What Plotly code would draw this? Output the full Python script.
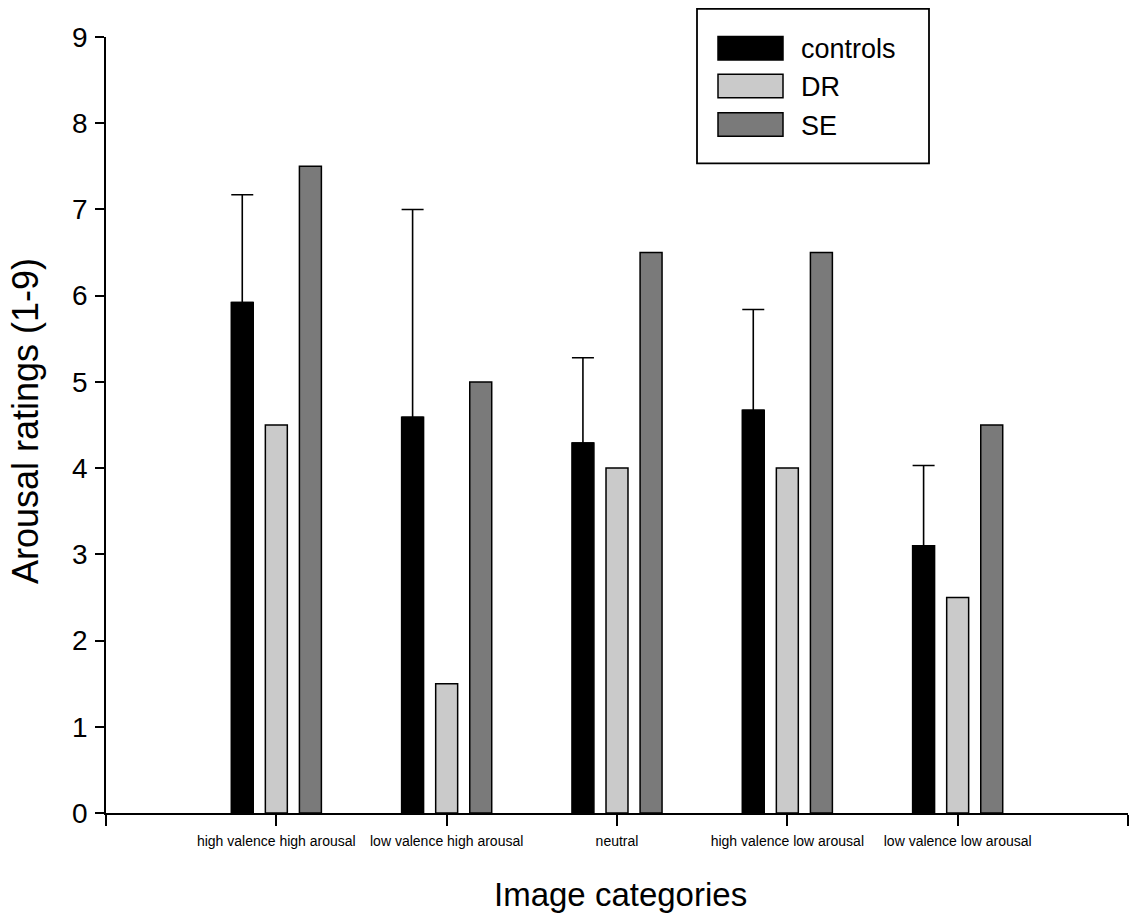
import plotly.graph_objects as go

# Mean arousal ratings per image category and group
categories = [
    "high valence high arousal",
    "low valence high arousal",
    "neutral",
    "high valence low arousal",
    "low valence low arousal",
]
controls = [5.92, 4.59, 4.29, 4.67, 3.10]
controls_err = [1.25, 2.41, 0.99, 1.17, 0.93]   # upper error (SD)
dr = [4.5, 1.5, 4.0, 4.0, 2.5]
se = [7.5, 5.0, 6.5, 6.5, 4.5]
y_ticks = [0, 1, 2, 3, 4, 5, 6, 7, 8, 9]

W, H = 1130, 921
ML, MR, MT, MB = 106, 2, 36.6, 107.7
FONT = "Arial, Liberation Sans, Helvetica, sans-serif"

positions = list(range(1, len(categories) + 1))

fig = go.Figure()
fig.add_trace(go.Bar(
    x=positions, y=controls, name="controls",
    marker=dict(color="#000000", line=dict(color="#000000", width=1.5)),
    error_y=dict(type="data", symmetric=False, array=controls_err,
                 arrayminus=[0] * len(controls), color="#000000",
                 thickness=1.6, width=11),
))
fig.add_trace(go.Bar(
    x=positions, y=dr, name="DR",
    marker=dict(color="#cacaca", line=dict(color="#000000", width=1.5)),
))
fig.add_trace(go.Bar(
    x=positions, y=se, name="SE",
    marker=dict(color="#7a7a7a", line=dict(color="#000000", width=1.5)),
))

fig.update_layout(
    width=W, height=H,
    margin=dict(l=ML, r=MR, t=MT, b=MB, pad=0),
    paper_bgcolor="white", plot_bgcolor="white",
    barmode="group", bargap=0.4, bargroupgap=0.355,
    showlegend=False,
    font=dict(family=FONT, color="#000000"),
)

fig.update_xaxes(
    range=[0, 6],
    tickmode="array",
    tickvals=[0] + positions + [6],
    ticktext=[""] + categories + [""],
    tickfont=dict(size=14, family=FONT),
    ticks="outside", ticklen=11, tickwidth=1.5, tickcolor="#000000",
    showline=True, linecolor="#000000", linewidth=1.8,
    showgrid=False, zeroline=False,
    ticklabelstandoff=3,
)
fig.update_yaxes(
    range=[0, 9],
    tickmode="array", tickvals=y_ticks,
    tickfont=dict(size=28, family=FONT),
    ticks="outside", ticklen=9, tickwidth=1.5, tickcolor="#000000",
    showline=True, linecolor="#000000", linewidth=1.8,
    showgrid=False, zeroline=False,
    ticklabelstandoff=2,
)

# Axis titles
fig.add_annotation(
    text="Image categories", xref="paper", yref="paper",
    x=(620 - ML) / (W - ML - MR), y=-(895 - (H - MB)) / (H - MT - MB),
    showarrow=False, xanchor="center", yanchor="middle",
    font=dict(size=33, family=FONT),
)
fig.add_annotation(
    text="Arousal ratings (1-9)", xref="paper", yref="paper",
    x=-(ML - 25) / (W - ML - MR), y=((H - MB) - 421) / (H - MT - MB),
    textangle=-90, showarrow=False, xanchor="center", yanchor="middle",
    font=dict(size=36, family=FONT),
)


def px_x(p):
    return (p - ML) / (W - ML - MR)


def px_y(p):
    return ((H - MB) - p) / (H - MT - MB)


# Legend box with swatches
fig.add_shape(type="rect", xref="paper", yref="paper",
              x0=px_x(697), x1=px_x(929), y0=px_y(163), y1=px_y(8.5),
              line=dict(color="#000000", width=1.8), fillcolor="white")
legend_items = [("controls", "#000000", 36, 59.5),
                ("DR", "#cacaca", 74, 97.5),
                ("SE", "#7a7a7a", 112.5, 136)]
for label, color, top, bottom in legend_items:
    fig.add_shape(type="rect", xref="paper", yref="paper",
                  x0=px_x(718), x1=px_x(783), y0=px_y(bottom), y1=px_y(top),
                  line=dict(color="#000000", width=1.5), fillcolor=color)
    fig.add_annotation(text=label, xref="paper", yref="paper",
                       x=px_x(799), y=px_y((top + bottom) / 2 + 1),
                       showarrow=False, xanchor="left", yanchor="middle",
                       font=dict(size=27, family=FONT))

fig.write_html("out.html")
